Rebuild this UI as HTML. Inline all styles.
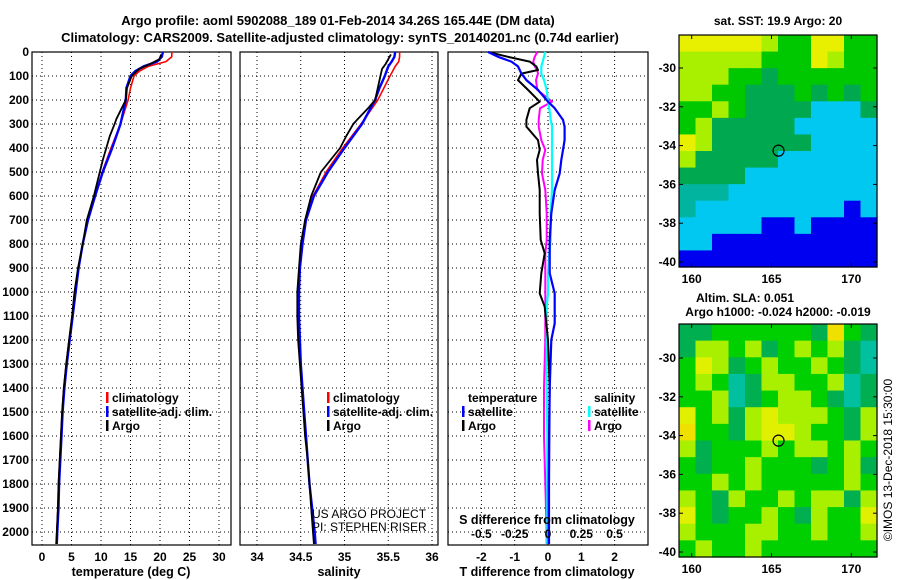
<!DOCTYPE html>
<html><head><meta charset="utf-8">
<style>
html,body{margin:0;padding:0;background:#fff;}
svg{display:block;font-family:"Liberation Sans",sans-serif;font-weight:bold;}
text{font-size:12px;fill:#000;}
</style></head>
<body>
<svg id="chart" width="900" height="580" viewBox="0 0 900 580" xmlns="http://www.w3.org/2000/svg">
<text x="338" y="25" text-anchor="middle" style="font-size:13px">Argo profile: aoml 5902088_189 01-Feb-2014 34.26S 165.44E (DM data)</text>
<text x="340" y="42" text-anchor="middle" style="font-size:13px">Climatology: CARS2009. Satellite-adjusted climatology: synTS_20140201.nc (0.74d earlier)</text>
<g id="g"></g>
</svg>
<script>
// ---- data ----
const depthTicks=[0,100,200,300,400,500,600,700,800,900,1000,1100,1200,1300,1400,1500,1600,1700,1800,1900,2000];
const tempTicks=[0,5,10,15,20,25,30];
const salTicks=[34,34.5,35,35.5,36];
const salTickLabels=['34','34.5','35','35.5','36'];
const tdiffTicks=[-2,-1,0,1,2];
const sdiffTicks=[-0.5,-0.25,0,0.25,0.5];
const sdiffTickLabels=['-0.5','-0.25','0','0.25','0.5'];

const argoDepth=[10,30,50,70,100,150,200,230,280,300,350,400,450,500,600,700,800,900,1000,1100,1200,1300,1400,1500,1600,1700,1800,1900,2000,2050];
const argoTemp=[20.2,19.9,18.3,16.5,15.2,14.4,14.2,13.6,12.6,12.3,11.5,10.9,10.3,9.8,8.8,7.6,6.9,6.1,5.5,5.1,4.6,4.1,3.7,3.4,3.2,3.0,2.8,2.7,2.5,2.4];
const climDepth=[0,20,40,60,80,100,150,200,300,400,500,600,700,800,900,1000,1100,1200,1300,1400,1500,1600,1700,1800,1900,2000,2050];
const climTemp=[22,22,21,18,16.5,15.6,15.0,14.6,13.3,11.7,10.2,9.0,7.8,6.9,6.2,5.6,5.1,4.6,4.1,3.7,3.4,3.2,3.0,2.8,2.7,2.5,2.4];
const satTemp=[20.5,20.3,19.5,17.2,15.8,15.0,14.3,14.2,13.3,11.9,10.3,9.0,7.8,6.9,6.2,5.7,5.2,4.7,4.2,3.8,3.5,3.3,3.1,2.9,2.8,2.6,2.5];

const argoSal=[35.53,35.5,35.47,35.43,35.41,35.38,35.35,35.28,35.15,35.1,35.02,34.95,34.84,34.73,34.62,34.55,34.5,34.48,34.46,34.46,34.47,34.49,34.51,34.53,34.55,34.58,34.6,34.62,34.64,34.65];
const climSal=[35.63,35.63,35.62,35.58,35.55,35.52,35.45,35.38,35.19,34.98,34.79,34.64,34.55,34.51,34.49,34.48,34.48,34.49,34.5,34.52,34.54,34.56,34.58,34.6,34.63,34.66,34.67];
const satSal=[35.58,35.57,35.54,35.5,35.48,35.46,35.4,35.35,35.2,35.0,34.81,34.65,34.56,34.52,34.49,34.48,34.48,34.49,34.5,34.52,34.54,34.56,34.58,34.6,34.63,34.66,34.67];

const diffDepth=[0,20,40,60,75,90,117,158,207,234,283,311,367,408,450,506,575,672,783,839,922,1006,1061,1131,1200,1400,1600,1800,2000,2050];
const tDiffArgo=[-1.8,-1.2,-0.55,-0.35,-0.3,-0.8,-0.9,-0.6,-0.25,-0.55,-0.65,-0.65,-0.3,-0.25,-0.33,-0.3,-0.25,-0.25,-0.22,-0.1,-0.2,-0.25,-0.1,-0.05,0,0.05,0.03,0.02,0.02,0.02];
const tDiffSat=[-1.8,-1.5,-1.1,-0.9,-0.85,-0.8,-0.65,-0.3,0,0.2,0.45,0.5,0.5,0.45,0.4,0.35,0.2,0.1,0.05,0.05,0.05,0.2,0.2,0.2,0.1,0.05,0.04,0.03,0.03,0.03];
const sDiffArgo=[-0.08,-0.1,-0.11,-0.1,-0.08,-0.075,-0.09,-0.08,0.03,-0.06,-0.07,-0.07,-0.05,-0.02,-0.04,-0.045,-0.02,-0.01,-0.01,-0.02,-0.02,-0.02,-0.02,-0.02,-0.02,-0.03,-0.03,-0.02,-0.01,-0.01];
const sDiffSat=[-0.02,-0.03,-0.04,-0.05,-0.05,-0.05,-0.03,-0.01,0.0,0.01,0.02,0.03,0.03,0.03,0.03,0.03,0.03,0.02,0.02,0.01,0.0,0.0,-0.01,-0.01,-0.01,-0.01,-0.005,-0.005,-0.005,-0.005];

const mapLonTicks=[160,165,170];
const mapLatTicks=[-30,-32,-34,-36,-38,-40];
const sstGrid=[
"YYYYYLGGYYGG","LLLLLGGGYLGG","LLLGGDGGGGGG","LLGGDDDGDGDG","GGLGDDDDCCCD","GLDDDDDCCCCC","YLDDDDDDCCCC",
"LDDDDDCCCCCC","DDDDCCCCCCCC","TTTCCCCCCCCC","TCCCCCCCCCBC","CCCCCBBCBBBB","CCBBBBBBBBBB","BBBBBBBBBBBB"];
const slaGrid=[
"DDGGGGGGDOGD","DLLGLDGLGLDT","GYLDGLGGLGDT","GLGTDLLGGLTD","GGLTDGLLGDTD","YGLDLYLLLGDL","OGGDLYYLGGDL",
"LDGGGLGLLGLG","GDGGLGGGDGLD","GGLGLGGGGGLG","LGDLGGLGLLDL","YGDGGLGDLGGY","LGGGLLGGLGGL","GLGGLGGGGGGG"];
const sstColors={Y:'#e8f000',L:'#a8f000',G:'#00c800',D:'#00a850',C:'#00c8f0',B:'#0000f0',T:'#00b4a0'};
const slaColors={Y:'#e0f000',L:'#a8f000',G:'#00d000',D:'#00b050',O:'#f0e000',T:'#00c0a0'};
const floatLon=165.44, floatLat=-34.26;

// ---- drawing ----
const NS='http://www.w3.org/2000/svg';
const G=document.getElementById('g');
function el(tag,attrs,parent){const e=document.createElementNS(NS,tag);for(const k in attrs)e.setAttribute(k,attrs[k]);(parent||G).appendChild(e);return e;}
function txt(s,x,y,anchor,parent){const t=el('text',{x:x,y:y,'text-anchor':anchor||'middle'},parent);t.textContent=s;return t;}
const Y0=52, YS=0.24, YB=545;
const yD=d=>Y0+d*YS;
function lin(d0,d1,p0,p1){return v=>p0+(v-d0)*(p1-p0)/(d1-d0);}

const panels=[
 {name:'temperature-panel',x0:32,x1:231,fx:lin(0,30,42,219)},
 {name:'salinity-panel',x0:240,x1:438,fx:lin(34,36,257,432)},
 {name:'difference-panel',x0:448,x1:648,fx:lin(-2,2,481.4,614.6)}
];
panels.forEach((p,i)=>{
  const g=el('g',{});
  
  
  depthTicks.forEach(d=>{
    if(d===0)return;
    const l=el('line',{x1:p.x0,x2:p.x1,y1:yD(d),y2:yD(d),stroke:'#000','stroke-width':1,'stroke-dasharray':'1 3'},g);
    
    
  });
  const vt=i===0?tempTicks:i===1?salTicks:tdiffTicks;
  vt.forEach(v=>{
    const x=p.fx(v);
    const l=el('line',{x1:x,x2:x,y1:Y0,y2:YB,stroke:'#000','stroke-width':1,'stroke-dasharray':'1 3'},g);
    
    
  });
  const r=el('rect',{x:p.x0,y:Y0,width:p.x1-p.x0,height:YB-Y0,fill:'none',stroke:'#000','stroke-width':1.2},g);
  
  
  p.g=g;
});
depthTicks.forEach(d=>{const t=txt(String(d),29,yD(d)+4,'end');
  
  });
tempTicks.forEach(v=>{const t=txt(String(v),panels[0].fx(v),561);
  
  });
salTicks.forEach((v,i)=>{const t=txt(salTickLabels[i],panels[1].fx(v),561);
  
  });
tdiffTicks.forEach(v=>{const t=txt(String(v),panels[2].fx(v),561);
  
  });
const fs=lin(-0.5,0.5,481.4,614.6);
sdiffTicks.forEach((v,i)=>{const t=txt(sdiffTickLabels[i],fs(v),538);
  
  });
[['temperature (deg C)',131,576,'x-axis-title-temperature'],['salinity',339,576,'x-axis-title-salinity'],['T difference from climatology',547,576,'x-axis-title-t-diff'],['S difference from climatology',547,524,'x-axis-title-s-diff']].forEach(a=>{
  const t=txt(a[0],a[1],a[2]);t.style.fontSize='12.5px';
  
  });

function clipY(d){return Math.min(YB,yD(d));}
function series(pi,depths,vals,fx,color,name,w){
  const pts=depths.map((d,i)=>fx(vals[i]).toFixed(1)+','+clipY(d).toFixed(1)).join(' ');
  const l=el('polyline',{points:pts,fill:'none',stroke:color,'stroke-width':w||2,'stroke-linejoin':'round'},panels[pi].g);
  
  
}
series(0,climDepth,climTemp,panels[0].fx,'#f00','climatology-temperature-line',1.6);
series(0,climDepth,satTemp,panels[0].fx,'#00f','satellite-temperature-line',2.4);
series(0,argoDepth,argoTemp,panels[0].fx,'#000','argo-temperature-line',1.8);
series(1,climDepth,climSal,panels[1].fx,'#f00','climatology-salinity-line',1.6);
series(1,climDepth,satSal,panels[1].fx,'#00f','satellite-salinity-line',2.4);
series(1,argoDepth,argoSal,panels[1].fx,'#000','argo-salinity-line',1.8);
series(2,diffDepth,sDiffArgo,fs,'#f0f','argo-salinity-diff-line',2);
series(2,diffDepth,sDiffSat,fs,'#0ff','satellite-salinity-diff-line',2.2);
series(2,diffDepth,tDiffArgo,panels[2].fx,'#000','argo-temperature-diff-line',2);
series(2,diffDepth,tDiffSat,panels[2].fx,'#00f','satellite-temperature-diff-line',2.2);

function legendItem(x,y,color,label,name){
  const g=el('g',{});
  
  
  if(color)el('rect',{x:x-6,y:y-10,width:2.5,height:11,fill:color},g);
  txt(label,x,y,'start',g);
}
legendItem(112,402,'#f00','climatology','legend-climatology');
legendItem(112,416,'#00f','satellite-adj. clim.','legend-satellite-adj');
legendItem(112,430,'#000','Argo','legend-argo');
legendItem(333,402,'#f00','climatology','legend2-climatology');
legendItem(333,416,'#00f','satellite-adj. clim.','legend2-satellite-adj');
legendItem(333,430,'#000','Argo','legend2-argo');
legendItem(468,402,null,'temperature','legend-temperature-heading');
legendItem(468,416,'#00f','satellite','legend-t-satellite');
legendItem(468,430,'#000','Argo','legend-t-argo');
legendItem(594,402,null,'salinity','legend-salinity-heading');
legendItem(594,416,'#0ff','satellite','legend-s-satellite');
legendItem(594,430,'#f0f','Argo','legend-s-argo');
[['US ARGO PROJECT',312,518],['PI: STEPHEN RISER',312,531]].forEach(a=>{const t=txt(a[0],a[1],a[2],'start');
  t.style.fontWeight='normal';
  
  });

function drawMap(name,top,bottom,grid,colors,latM30,latM40){
  const x0=679,x1=877;
  const g=el('g',{});
  
  
  const rows=grid.length, cols=grid[0].length;
  const cw=(x1-x0)/cols, ch=(bottom-top)/rows;
  grid.forEach((row,r)=>{for(let c=0;c<cols;c++){
    const cell=el('rect',{x:(x0+c*cw).toFixed(2),y:(top+r*ch).toFixed(2),width:(cw+0.6).toFixed(2),height:(ch+0.6).toFixed(2),fill:colors[row[c]]},g);
    
    
  }});
  const fx=lin(160,170,691.7,851.3), fy=lin(-30,-40,latM30,latM40);
  el('rect',{x:x0,y:top,width:x1-x0,height:bottom-top,fill:'none',stroke:'#000','stroke-width':1.2},g);
  mapLonTicks.forEach(v=>{const x=fx(v);
    el('line',{x1:x,x2:x,y1:bottom,y2:bottom-4,stroke:'#000'},g);
    el('line',{x1:x,x2:x,y1:top,y2:top+4,stroke:'#000'},g);
    const t=txt(String(v),x,bottom+16,'middle',g);
    
    });
  mapLatTicks.forEach(v=>{const y=fy(v);
    el('line',{x1:x0,x2:x0+4,y1:y,y2:y,stroke:'#000'},g);
    el('line',{x1:x1,x2:x1-4,y1:y,y2:y,stroke:'#000'},g);
    const t=txt(String(v),676,y+4,'end',g);
    
    });
  const c=el('circle',{cx:fx(floatLon),cy:fy(floatLat),r:5.5,fill:'none',stroke:'#000','stroke-width':1.2},g);
  
  
}
drawMap('sst-map',35,267,sstGrid,sstColors,68,262);
drawMap('sla-map',324,557,slaGrid,slaColors,358,552);
[['sat. SST: 19.9 Argo: 20',778,25,'sst-map-title'],['Altim. SLA: 0.051',745,302,'sla-map-title'],['Argo h1000: -0.024 h2000: -0.019',778,316,'sla-map-subtitle']].forEach(a=>{
  const t=txt(a[0],a[1],a[2]);
  
  });
const cr=txt('©IMOS 13-Dec-2018 15:30:00',0,0);
cr.setAttribute('transform','translate(892,460) rotate(-90)');
cr.style.fontWeight='normal';


</script>
</body></html>
